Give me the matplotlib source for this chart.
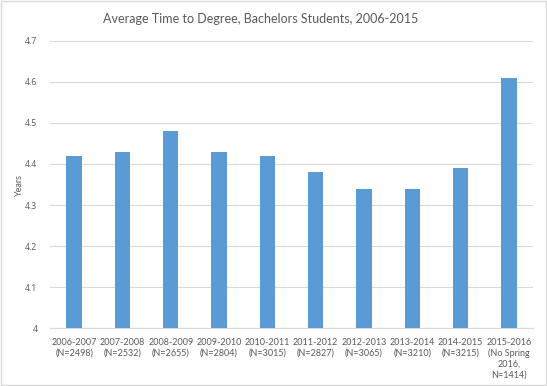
import matplotlib
matplotlib.use("Agg")
import matplotlib.pyplot as plt
from matplotlib.patches import Rectangle

# data
categories = [
    "2006-2007\n(N=2498)", "2007-2008\n(N=2532)", "2008-2009\n(N=2655)",
    "2009-2010\n(N=2804)", "2010-2011\n(N=3015)", "2011-2012\n(N=2827)",
    "2012-2013\n(N=3065)", "2013-2014\n(N=3210)", "2014-2015\n(N=3215)",
    "2015-2016\n(No Spring\n2016,\nN=1414)",
]
years = [4.42, 4.43, 4.48, 4.43, 4.42, 4.38, 4.34, 4.34, 4.39, 4.61]
y_ticks = [4, 4.1, 4.2, 4.3, 4.4, 4.5, 4.6, 4.7]
y_tick_labels = ["4", "4.1", "4.2", "4.3", "4.4", "4.5", "4.6", "4.7"]

plt.rcParams['font.family'] = ['Lato', 'DejaVu Sans']
text_col = '#595959'

fig = plt.figure(figsize=(5.47, 3.86), dpi=100)
ax = fig.add_axes([0.0914, 0.150, 0.883, 0.744])

x = range(len(categories))
ax.bar(x, years, width=0.32, color='#5B9BD5', zorder=3)

ax.set_xlim(-0.5, len(categories) - 0.5)
ax.set_ylim(4, 4.7)
ax.set_yticks(y_ticks)
ax.set_yticklabels(y_tick_labels)
ax.set_xticks(list(x))
ax.set_xticklabels(categories, linespacing=1.25)
ax.tick_params(axis='both', length=0, labelsize=6.5, labelcolor=text_col)
ax.tick_params(axis='y', pad=9)
ax.tick_params(axis='x', pad=7)
# Lato's full stop all but vanishes at this size, so the y labels use Open Sans
for lbl in ax.get_yticklabels():
    lbl.set_family(['Open Sans', 'DejaVu Sans'])
    lbl.set_fontsize(6.3)
ax.yaxis.grid(True, color='#D9D9D9', linewidth=0.8, zorder=0)

for s in ['top', 'right', 'left']:
    ax.spines[s].set_visible(False)
ax.spines['bottom'].set_color('#D9D9D9')
ax.spines['bottom'].set_linewidth(0.8)

ax.set_ylabel("Years", fontsize=6.5, color=text_col, labelpad=1)
fig.text(0.477, 0.951, "Average Time to Degree, Bachelors Students, 2006-2015",
         ha='center', va='center', fontsize=9, color=text_col)

# chart border
fig.patches.append(Rectangle((0.002, 0.003), 0.996, 0.994, transform=fig.transFigure,
                             fill=False, edgecolor='#D9D9D9', linewidth=1))

fig.savefig("out.png", dpi=100)
